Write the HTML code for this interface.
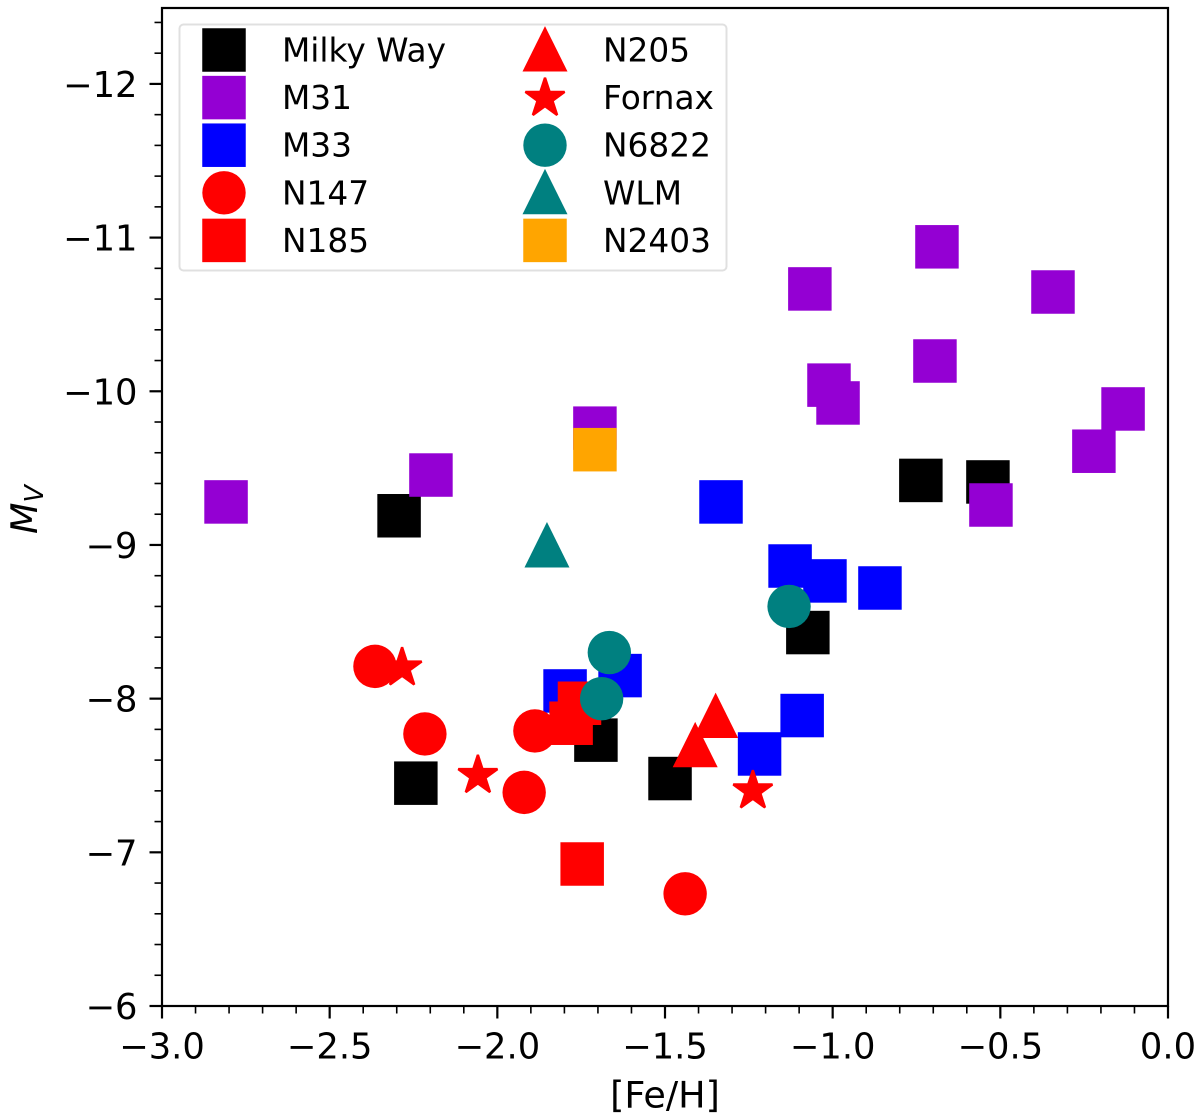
<!DOCTYPE html>
<html lang="en">
<head>
<meta charset="utf-8">
<title>Metallicity vs absolute magnitude</title>
<style>
html,body{margin:0;padding:0;background:#fff;}
svg{display:block;}
text{font-family:"DejaVu Sans","Liberation Sans",sans-serif;fill:#000;}
</style>
</head>
<body>
<svg id="chart" xmlns="http://www.w3.org/2000/svg" width="1200" height="1113" viewBox="0 0 1200 1113"></svg>
<script>
const xMajorTicks = [-3.0, -2.5, -2.0, -1.5, -1.0, -0.5, 0.0];
const xTickLabels = ['\u22123.0', '\u22122.5', '\u22122.0', '\u22121.5', '\u22121.0', '\u22120.5', '0.0'];
const xMinorTicks = [-2.9,-2.8,-2.7,-2.6,-2.4,-2.3,-2.2,-2.1,-1.9,-1.8,-1.7,-1.6,-1.4,-1.3,-1.2,-1.1,-0.9,-0.8,-0.7,-0.6,-0.4,-0.3,-0.2,-0.1];
const yMajorTicks = [-6, -7, -8, -9, -10, -11, -12];
const yTickLabels = ['\u22126', '\u22127', '\u22128', '\u22129', '\u221210', '\u221211', '\u221212'];
const yMinorTicks = [-6.2,-6.4,-6.6,-6.8,-7.2,-7.4,-7.6,-7.8,-8.2,-8.4,-8.6,-8.8,-9.2,-9.4,-9.6,-9.8,-10.2,-10.4,-10.6,-10.8,-11.2,-11.4,-11.6,-11.8,-12.2,-12.4];

const milkyWayFeH = [-2.293, -2.243, -1.706, -1.485, -1.074, -0.737, -0.537];
const milkyWayMv  = [-9.19, -7.45, -7.73, -7.48, -8.43, -9.42, -9.41];
const m31FeH = [-2.809, -2.198, -1.709, -1.068, -1.011, -0.984, -0.689, -0.695, -0.343, -0.134, -0.221, -0.528];
const m31Mv  = [-9.28, -9.455, -9.76, -10.666, -10.04, -9.924, -10.94, -10.197, -10.646, -9.885, -9.61, -9.26];
const m33FeH = [-1.333, -1.127, -1.023, -0.859, -1.798, -1.634, -1.091, -1.218];
const m33Mv  = [-9.28, -8.863, -8.766, -8.72, -8.05, -8.15, -7.89, -7.64];
const n147FeH = [-2.365, -2.216, -1.888, -1.92, -1.44];
const n147Mv  = [-8.21, -7.77, -7.79, -7.39, -6.73];
const n185FeH = [-1.747, -1.755, -1.78];
const n185Mv  = [-6.924, -7.97, -7.84];
const n205FeH = [-1.349, -1.41];
const n205Mv  = [-7.89, -7.70];
const fornaxFeH = [-2.284, -2.058, -1.238];
const fornaxMv  = [-8.20, -7.50, -7.40];
const n6822FeH = [-1.130, -1.666, -1.689];
const n6822Mv  = [-8.60, -8.30, -8.00];
const wlmFeH = [-1.852];
const wlmMv  = [-9.0];
const n2403FeH = [-1.709];
const n2403Mv  = [-9.62];

const legendLabels = ['Milky Way','M31','M33','N147','N185','N205','Fornax','N6822','WLM','N2403'];
const seriesKeys = ['milky-way','m31','m33','n147','n185','n205','fornax','n6822','wlm','n2403'];
const seriesShapes = ['square','square','square','circle','square','triangle','star','circle','triangle','square'];
const seriesColors = ['#000000','#9400d3','#0000ff','#ff0000','#ff0000','#ff0000','#ff0000','#008080','#008080','#ffa500'];
const seriesX = [milkyWayFeH,m31FeH,m33FeH,n147FeH,n185FeH,n205FeH,fornaxFeH,n6822FeH,wlmFeH,n2403FeH];
const seriesY = [milkyWayMv,m31Mv,m33Mv,n147Mv,n185Mv,n205Mv,fornaxMv,n6822Mv,wlmMv,n2403Mv];

const NS = 'http://www.w3.org/2000/svg';
const svg = document.getElementById('chart');
const plot = {left:162, right:1168, top:8, bottom:1006};
const xDomain = [-3, 0];
const yDomain = [-6, -12.494];
function xScale(v){ return plot.left + (v - xDomain[0]) / (xDomain[1] - xDomain[0]) * (plot.right - plot.left); }
function yScale(v){ return plot.bottom + (v - yDomain[0]) / (yDomain[1] - yDomain[0]) * (plot.top - plot.bottom); }

function make(tag, attrs, parent){
  const el = document.createElementNS(NS, tag);
  for (const k in attrs) el.setAttribute(k, attrs[k]);
  (parent || svg).appendChild(el);
  return el;
}
function tick(x1,y1,x2,y2,w,name){
  const t = make('line',{x1:x1,y1:y1,x2:x2,y2:y2,stroke:'#000','stroke-width':w});
  
  
}
function drawMarker(shape,color,cx,cy,parent){
  let el;
  if (shape === 'square') {
    const s = 43.5;
    el = make('rect',{x:cx-s/2,y:cy-s/2,width:s,height:s,fill:color},parent);
  } else if (shape === 'circle') {
    el = make('circle',{cx:cx,cy:cy,r:21.7,fill:color},parent);
  } else if (shape === 'triangle') {
    const s = 45;
    el = make('polygon',{points:[cx,cy-s/2-0.4,cx+s/2,cy+s/2,cx-s/2,cy+s/2].join(' '),fill:color},parent);
  } else {
    const R = 20.6, r = R*0.381966, pts = [];
    for (let i=0;i<10;i++){
      const a = -Math.PI/2 + i*Math.PI/5, q = i%2 ? r : R;
      pts.push((cx+q*Math.cos(a)).toFixed(2)+','+(cy+q*Math.sin(a)).toFixed(2));
    }
    el = make('polygon',{points:pts.join(' '),fill:color,stroke:color,'stroke-width':2.4,'stroke-linejoin':'bevel'},parent);
  }
  return el;
}

/* series */
seriesKeys.forEach(function(key,i){
  const g = make('g',{});
  
  
  seriesX[i].forEach(function(v,j){
    const m = drawMarker(seriesShapes[i],seriesColors[i],xScale(v),yScale(seriesY[i][j]),g);
    
    
  });
});

/* legend */
const legend = make('g',{});


const legendBox = make('rect',{x:179.5,y:24.5,width:547,height:246,rx:4,ry:4,fill:'#fff','fill-opacity':0.8,stroke:'#e0e0e0','stroke-width':2},legend);


legendLabels.forEach(function(label,i){
  const col = Math.floor(i/5), row = i%5;
  const hx = col ? 545 : 224, tx = col ? 603 : 282, cy = 50 + row*47.6;
  const shape = seriesShapes[i];
  const nudge = shape === 'triangle' ? -1 : (shape === 'star' ? 0.7 : 0);
  const entry = make('g',{},legend);
  
  
  drawMarker(shape,seriesColors[i],hx,cy+nudge,entry);
  const t = make('text',{x:tx,y:cy+11.5,'font-size':32.8},entry);
  t.textContent = label;
});

/* ticks */
xMinorTicks.forEach(function(v){ tick(xScale(v),plot.bottom,xScale(v),plot.bottom+7.5,1.6,'x-minor-tick'); });
yMinorTicks.forEach(function(v){ tick(plot.left,yScale(v),plot.left-7.5,yScale(v),1.6,'y-minor-tick'); });
xMajorTicks.forEach(function(v,i){
  tick(xScale(v),plot.bottom,xScale(v),plot.bottom+12.5,2.2,'x-major-tick');
  const t = make('text',{x:xScale(v),y:1058.5,'font-size':35.3,'text-anchor':'middle'});
  
  
  t.textContent = xTickLabels[i];
});
yMajorTicks.forEach(function(v,i){
  tick(plot.left,yScale(v),plot.left-12.5,yScale(v),2.2,'y-major-tick');
  const t = make('text',{x:137.5,y:yScale(v)+13,'font-size':35.3,'text-anchor':'end'});
  
  
  t.textContent = yTickLabels[i];
});

/* spines */
const frame = make('rect',{x:plot.left,y:plot.top,width:plot.right-plot.left,height:plot.bottom-plot.top,fill:'none',stroke:'#000','stroke-width':2.2});



/* axis titles */
const xTitle = make('text',{x:665,y:1107.5,'font-size':36.5,'text-anchor':'middle'});


xTitle.textContent = '[Fe/H]';

const yTitle = make('text',{x:0,y:0,'font-size':36.5,transform:'translate(37,534) rotate(-90)'});


const tM = make('tspan',{'font-style':'italic'},yTitle);
tM.textContent = 'M';
const tV = make('tspan',{'font-style':'italic','font-size':25.5,dy:6},yTitle);
tV.textContent = 'V';
</script>
</body>
</html>
